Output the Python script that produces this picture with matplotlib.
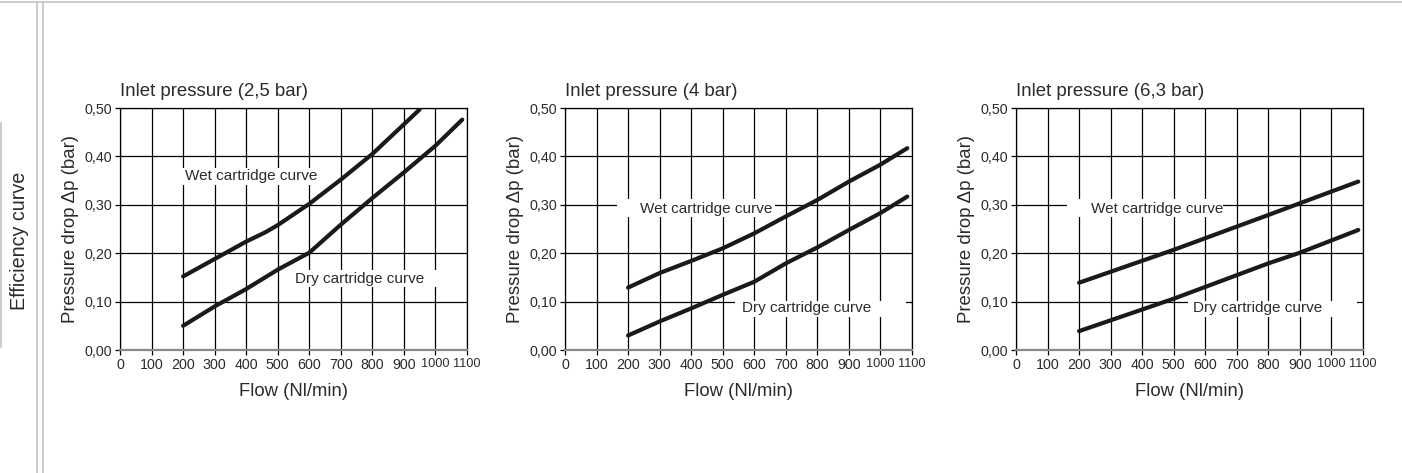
import numpy as np
import matplotlib
matplotlib.use("Agg")
from matplotlib import pyplot as plt
from matplotlib import font_manager
from matplotlib.lines import Line2D
from matplotlib.patches import Rectangle

plt.rcParams['font.family'] = ['Liberation Sans', 'DejaVu Sans']

# flow values (Nl/min) and pressure drop (bar)
titles = ["Inlet pressure (2,5 bar)", "Inlet pressure (4 bar)", "Inlet pressure (6,3 bar)"]

wet_x = [
    [200, 300, 400, 460, 500, 600, 700, 800, 950],
    [200, 300, 400, 500, 600, 700, 800, 900, 1000, 1085],
    [200, 500, 800, 1085],
]
wet_y = [
    [0.152, 0.188, 0.224, 0.243, 0.258, 0.302, 0.352, 0.405, 0.497],
    [0.129, 0.159, 0.184, 0.210, 0.241, 0.276, 0.310, 0.348, 0.383, 0.417],
    [0.139, 0.207, 0.279, 0.348],
]
dry_x = [
    [200, 300, 400, 500, 600, 700, 800, 900, 1000, 1085],
    [200, 300, 400, 500, 600, 700, 800, 900, 1000, 1085],
    [200, 500, 800, 900, 1085],
]
dry_y = [
    [0.050, 0.090, 0.126, 0.166, 0.201, 0.259, 0.314, 0.367, 0.422, 0.476],
    [0.030, 0.059, 0.086, 0.114, 0.141, 0.179, 0.212, 0.248, 0.283, 0.317],
    [0.039, 0.106, 0.179, 0.201, 0.248],
]

xticks = np.arange(0, 1101, 100)
yticks = [0.0, 0.1, 0.2, 0.3, 0.4, 0.5]

# label placement: text anchor (x, y) and white box (x0, x1, y0, y1), data coords
wet_label = [(206, 0.3585), (238, 0.291), (238, 0.291)]
dry_label = [(556, 0.147), (561, 0.087), (561, 0.087)]
wet_box = [(127, 619, 0.341, 0.376), (165, 666, 0.275, 0.312), (162, 656, 0.275, 0.312)]
dry_box = [(540, 1057, 0.130, 0.165), (539, 1081, 0.068, 0.101), (545, 1081, 0.068, 0.101)]

names = {f.name for f in font_manager.fontManager.ttflist}
has_narrow = "Liberation Sans Narrow" in names

txt = "#2b2b2b"
W, H = 1402, 473
fig = plt.figure(figsize=(W / 100, H / 100), dpi=100)

lefts = [120, 565, 1016]
for i in range(3):
    ax = fig.add_axes([lefts[i] / W, 1 - 350 / H, 347 / W, 242 / H])
    ax.set_xlim(0, 1100)
    ax.set_ylim(0, 0.5)
    ax.set_xticks(xticks)
    ax.set_xticklabels([str(v) for v in xticks])
    ax.set_yticks(yticks)
    ax.set_yticklabels([("%.2f" % v).replace(".", ",") for v in yticks])
    ax.grid(True, color="black", linewidth=0.9)
    ax.set_axisbelow(True)
    ax.tick_params(direction="out", length=3.5, width=0.9, labelsize=10.3,
                   labelcolor=txt, pad=2)
    # the four-digit labels are squeezed in the original
    for lab in ax.get_xticklabels()[-2:]:
        if has_narrow:
            lab.set_fontfamily(["Liberation Sans Narrow", "Liberation Sans"])
        else:
            lab.set_fontsize(9.2)
    for s in ["top", "right", "left"]:
        ax.spines[s].set_linewidth(0.9)
    ax.spines["bottom"].set_color("#888888")
    ax.spines["bottom"].set_linewidth(1.6)

    ax.plot(wet_x[i], wet_y[i], color="#1a1a1a", lw=3.0, solid_capstyle="round", zorder=3)
    ax.plot(dry_x[i], dry_y[i], color="#1a1a1a", lw=3.0, solid_capstyle="round", zorder=3)

    for (bx0, bx1, by0, by1) in (wet_box[i], dry_box[i]):
        ax.add_patch(Rectangle((bx0, by0), bx1 - bx0, by1 - by0, facecolor="white",
                               edgecolor="none", zorder=2))
    ax.text(*wet_label[i], "Wet cartridge curve", fontsize=11, color=txt,
            ha="left", va="center", zorder=2.5)
    ax.text(*dry_label[i], "Dry cartridge curve", fontsize=11, color=txt,
            ha="left", va="center", zorder=2.5)

    ax.set_title(titles[i], loc="left", fontsize=13.4, color=txt, pad=8.3)
    ax.set_xlabel("Flow (Nl/min)", fontsize=13.3, color=txt, labelpad=8)
    ax.set_ylabel("Pressure drop \u0394p (bar)", fontsize=13.4, color=txt, labelpad=4)

# page frame lines
grey = "#c4c4c4"
fig.add_artist(Line2D([0, 1], [1 - 2 / H, 1 - 2 / H], color=grey, lw=1.2))
fig.add_artist(Line2D([37 / W, 37 / W], [0, 1 - 2 / H], color=grey, lw=1.2))
fig.add_artist(Line2D([43 / W, 43 / W], [0, 1 - 2 / H], color=grey, lw=1.2))
fig.add_artist(Line2D([0.5 / W, 0.5 / W], [1 - 347 / H, 1 - 123 / H], color=grey, lw=1.2))
fig.text(20 / W, 1 - 241 / H, "Efficiency curve", rotation=90, fontsize=14.2,
         color=txt, ha="center", va="center")

fig.savefig("out.png", dpi=100)
